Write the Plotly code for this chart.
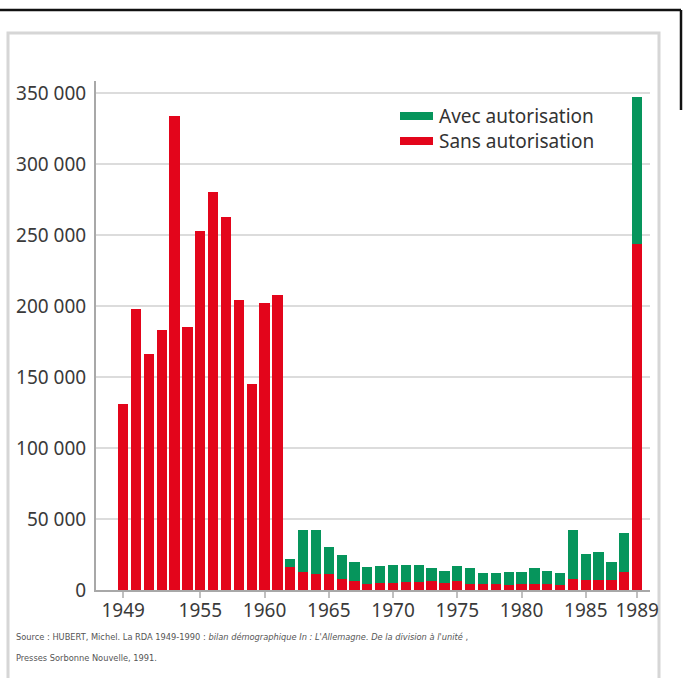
import plotly.graph_objects as go

years = list(range(1949, 1990))
total = [131000, 198000, 166000, 183000, 334000, 185000, 253000, 280000, 263000, 204000,
         145000, 202000, 208000,
         22000, 42500, 42500, 30000, 24500, 19500, 16500, 17000, 17500, 17500, 17500,
         15500, 13500, 17000, 15500, 12000, 12000, 12500, 12500, 15500, 13500, 12000,
         42500, 25500, 26500, 19500, 40500, 347000]
sans = [131000, 198000, 166000, 183000, 334000, 185000, 253000, 280000, 263000, 204000,
        145000, 202000, 208000,
        16500, 12500, 11500, 11500, 8000, 6000, 4500, 5000, 5000, 5500, 5500,
        6000, 5000, 6000, 4500, 4000, 4000, 3500, 4000, 4000, 4000, 3500,
        7500, 7000, 7000, 7000, 13000, 243500]
avec = [t - s for t, s in zip(total, sans)]

tick_years = [1949, 1955, 1960, 1965, 1970, 1975, 1980, 1985, 1989]
y_ticks = [0, 50000, 100000, 150000, 200000, 250000, 300000, 350000]
y_labels = ["0", "50 000", "100 000", "150 000", "200 000", "250 000", "300 000", "350 000"]

RED = "#E3051B"
GREEN = "#06955C"
FONT = "Noto Sans, Open Sans, sans-serif"
NARROW = "Liberation Sans Narrow, DejaVu Sans Condensed, Noto Sans, sans-serif"

fig = go.Figure()
fig.add_trace(go.Bar(x=years, y=sans, name="Sans autorisation", marker_color=RED,
                     marker_line_width=0))
fig.add_trace(go.Bar(x=years, y=avec, name="Avec autorisation", marker_color=GREEN,
                     marker_line_width=0))

W, H = 686, 678
L, R, T, B = 96, 36, 81, 88
pw, ph = W - L - R, H - T - B

def px(x):
    return (x - L) / pw

def py(y):
    return (H - B - y) / ph

shapes = [
    dict(type="rect", xref="paper", yref="paper", x0=px(8), x1=px(659), y0=py(700), y1=py(33),
         line=dict(color="#d6d6d6", width=3), layer="below"),
    dict(type="line", xref="paper", yref="paper", x0=px(0), x1=px(681), y0=py(10), y1=py(10),
         line=dict(color="#111", width=2.5)),
    dict(type="line", xref="paper", yref="paper", x0=px(681), x1=px(681), y0=py(10), y1=py(110),
         line=dict(color="#111", width=2.5)),
    dict(type="rect", xref="paper", yref="paper", x0=px(400), x1=px(433), y0=py(120), y1=py(112),
         fillcolor=GREEN, line_width=0),
    dict(type="rect", xref="paper", yref="paper", x0=px(400), x1=px(433), y0=py(145), y1=py(137),
         fillcolor=RED, line_width=0),
]

src1 = "Source : HUBERT, Michel. La RDA 1949-1990 : <i>bilan démographique In : L'Allemagne. De la division à l'unité</i> ,"
src2 = "Presses Sorbonne Nouvelle, 1991."

annotations = [
    dict(text="Avec autorisation", xref="paper", yref="paper", x=px(437), y=py(116),
         xanchor="left", yanchor="middle", showarrow=False,
         font=dict(family=FONT, size=19, color="#333")),
    dict(text="Sans autorisation", xref="paper", yref="paper", x=px(437), y=py(141),
         xanchor="left", yanchor="middle", showarrow=False,
         font=dict(family=FONT, size=19, color="#333")),
    dict(text=src1, xref="paper", yref="paper", x=px(14), y=py(636), xanchor="left",
         yanchor="middle", align="left", showarrow=False,
         font=dict(family=NARROW, size=9.2, color="#555")),
    dict(text=src2, xref="paper", yref="paper", x=px(14), y=py(657), xanchor="left",
         yanchor="middle", align="left", showarrow=False,
         font=dict(family=NARROW, size=9.2, color="#555")),
]

fig.update_layout(
    width=W, height=H,
    margin=dict(l=L, r=R, t=T, b=B, autoexpand=False),
    barmode="stack", bargap=0.2,
    showlegend=False,
    paper_bgcolor="white", plot_bgcolor="white",
    shapes=shapes, annotations=annotations,
    xaxis=dict(range=[1946.88, 1990.0], tickmode="array", tickvals=tick_years,
               ticktext=[str(t) for t in tick_years],
               ticks="outside", ticklen=6, tickcolor="#c0c0c0", tickwidth=1.5,
               showline=True, linecolor="#a8a8a8", linewidth=2, showgrid=False,
               ticklabelstandoff=-4,
               tickfont=dict(family=FONT, size=19, color="#3a3a3a"), zeroline=False),
    yaxis=dict(range=[0, 358500], tickmode="array", tickvals=y_ticks, ticktext=y_labels,
               ticks="", showline=True, linecolor="#a8a8a8", linewidth=2,
               showgrid=True, gridcolor="#dcdcdc", gridwidth=2, zeroline=False,
               ticklabelstandoff=4,
               tickfont=dict(family=FONT, size=19, color="#3a3a3a")),
)

fig.write_html("out.html", config={"displayModeBar": False},
               post_script="document.body.style.margin='0';")
